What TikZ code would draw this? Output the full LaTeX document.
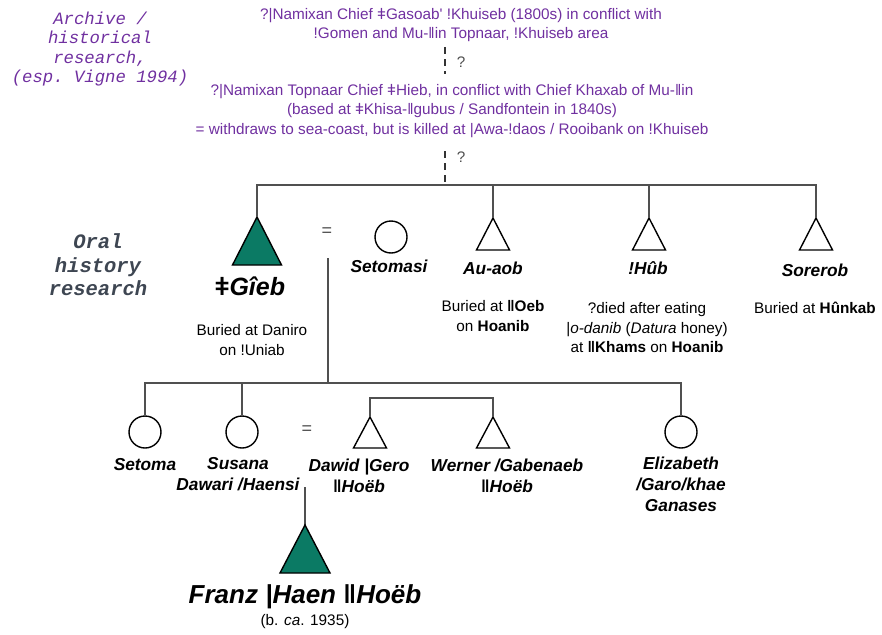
\documentclass[tikz,border=0pt]{standalone}
\usepackage{fontspec}
\setmainfont{Liberation Sans}
\setmonofont{Liberation Mono}
\definecolor{archive}{RGB}{112,48,160}
\definecolor{oral}{RGB}{62,70,82}
\definecolor{kinfill}{RGB}{11,122,100}
\definecolor{kinline}{RGB}{80,80,80}
\begin{document}
\begin{tikzpicture}[x=1pt, y=-1pt,
        line/.style={draw=kinline, line width=1.4pt},
        dashline/.style={draw=black!80, line width=1.4pt, dash pattern=on 7pt off 5pt},
        male/.style={draw=black, line width=1.4pt, line join=miter},
        focus/.style={male, fill=kinfill},
        female/.style={circle, draw=black, line width=1.4pt, minimum size=32pt, inner sep=0pt},
        kin/.style={font=\fontsize{17.3}{21}\selectfont\bfseries\itshape, align=center, inner sep=0pt},
        bigkin/.style={kin, font=\fontsize{25}{30}\selectfont\bfseries\itshape},
        note/.style={font=\fontsize{15.3}{19.5}\selectfont, align=center, inner sep=0pt},
        hist/.style={note, text=archive},
        sign/.style={font=\fontsize{15.3}{19}\selectfont, text=kinline, inner sep=0pt},
        wedsign/.style={sign, font=\fontsize{18}{19}\selectfont}]
    \useasboundingbox (0, 0) rectangle (882, 634);

    % sources
    \node[align=center, text=archive, font=\fontsize{17.3}{19.5}\selectfont\ttfamily\itshape] (archive) at (100, 49)
        {Archive /\\historical\\research,\\(esp. Vigne 1994)};
    \node[align=center, text=oral, font=\fontsize{20.5}{23.5}\selectfont\ttfamily\bfseries\itshape] (oral) at (98, 265)
        {Oral\\history\\research};

    % chiefs
    \node[hist] (chief1) at (461, 25)
        {?|Namixan Chief ǂGasoab\textquotesingle{} !Khuiseb (1800s) in conflict with\\!Gomen and Mu-ǁin Topnaar, !Khuiseb area};
    \node[hist] (chief2) at (452, 111)
        {?|Namixan Topnaar Chief ǂHieb, in conflict with Chief Khaxab of Mu-ǁin\\(based at ǂKhisa-ǁgubus / Sandfontein in 1840s)\\= withdraws to sea-coast, but is killed at |Awa-!daos / Rooibank on !Khuiseb};
    \coordinate (q1a) at (445, 47);
    \coordinate (q1b) at (445, 74);
        \draw[dashline] (q1a) -- (q1b);
        \node[sign] (q1) at (461, 62){?};
    \coordinate (q2a) at (445, 151);
    \coordinate (bar) at (445, 185);
        \draw[dashline] (q2a) -- (bar);
        \node[sign] (q2) at (461, 157){?};

    % first generation
    \coordinate (gieb) at (257, 217);
        \draw[focus] (gieb) -- ++(24.5, 48) -- ++(-49, 0) -- cycle;
        \node[bigkin] (gieb-name) at (250, 286){ǂGîeb};
        \node[note] (gieb-note) at (252, 340){Buried at Daniro\\on !Uniab};
    \node[wedsign] (eq1) at (327, 232){=};
    \node[female] (setomasi) at (391, 237){};
        \node[kin] (setomasi-name) at (389, 266){Setomasi};
    \coordinate (aoab) at (493, 218);
        \draw[male] (aoab) -- ++(16.5, 32) -- ++(-33, 0) -- cycle;
        \node[kin] (aoab-name) at (493, 268){Au-aob};
        \node[note] (aoab-note) at (493, 316){Buried at \textbf{ǁOeb}\\on \textbf{Hoanib}};
    \coordinate (hub) at (649, 218);
        \draw[male] (hub) -- ++(16.5, 32) -- ++(-33, 0) -- cycle;
        \node[kin] (hub-name) at (648, 268){!Hûb};
        \node[note] (hub-note) at (647, 328)
            {?died after eating\\|\textit{o-danib} (\textit{Datura} honey)\\at \textbf{ǁKhams} on \textbf{Hoanib}};
    \coordinate (sorerob) at (816, 218);
        \draw[male] (sorerob) -- ++(16.5, 32) -- ++(-33, 0) -- cycle;
        \node[kin] (sorerob-name) at (815, 270){Sorerob};
        \node[note] (sorerob-note) at (815, 308){Buried at \textbf{Hûnkab}};
    \draw[line] (gieb) -- (gieb |- bar) -- (sorerob |- bar) -- (sorerob);
    \draw[line] (aoab |- bar) -- (aoab);
    \draw[line] (hub |- bar) -- (hub);

    % second generation
    \coordinate (wed) at (328, 258);
    \coordinate (kids) at (328, 383);
        \draw[line] (wed) -- (kids);
    \node[female] (setoma) at (145, 432){};
        \node[kin] (setoma-name) at (145, 465){Setoma};
    \node[female] (susana) at (242, 432){};
        \node[kin] (susana-name) at (238, 474){Susana\\Dawari /Haensi};
    \node[wedsign] (eq2) at (307, 430){=};
    \coordinate (dawid) at (370, 417);
        \draw[male] (dawid) -- ++(16.5, 31) -- ++(-33, 0) -- cycle;
        \node[kin] (dawid-name) at (359, 476){Dawid |Gero\\ǁHoëb};
    \coordinate (werner) at (493, 417);
        \draw[male] (werner) -- ++(16.5, 31) -- ++(-33, 0) -- cycle;
        \node[kin] (werner-name) at (507, 476){Werner /Gabenaeb\\ǁHoëb};
    \node[female] (elizabeth) at (681, 432){};
        \node[kin] (elizabeth-name) at (681, 484){Elizabeth\\/Garo/khae\\Ganases};
    \draw[line] (setoma.north) -- (setoma.north |- kids) -- (elizabeth.north |- kids) -- (elizabeth.north);
    \draw[line] (susana.north) -- (susana.north |- kids);
    \draw[line] (dawid) -- ++(0, -19) -| (werner);

    % third generation
    \coordinate (union) at (305, 487);
    \coordinate (franz) at (305, 525);
        \draw[line] (union) -- (franz);
        \draw[focus] (franz) -- ++(25, 48) -- ++(-50, 0) -- cycle;
        \node[bigkin, font=\fontsize{26}{30}\selectfont\bfseries\itshape] (franz-name) at (305, 597){Franz |Haen ǁHoëb};
        \node[note] (franz-note) at (305, 622){(b. \textit{ca}. 1935)};
\end{tikzpicture}
\end{document}
